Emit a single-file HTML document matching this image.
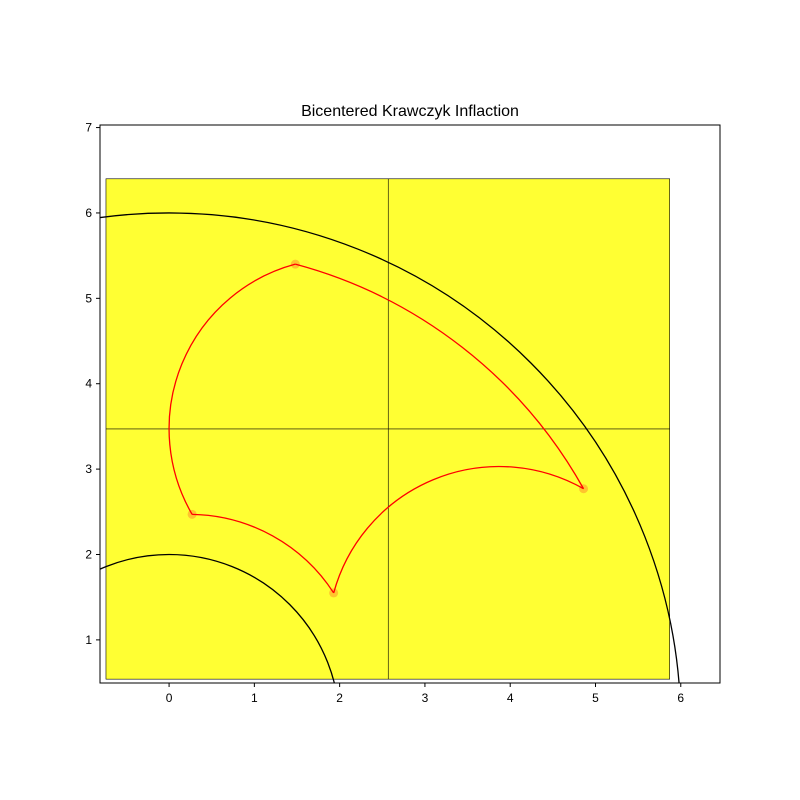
<!DOCTYPE html>
<html><head><meta charset="utf-8"><style>html,body{margin:0;background:#fff;width:800px;height:800px;overflow:hidden}svg{display:block;font-family:"Liberation Sans","DejaVu Sans",sans-serif}</style></head>
<body>
<svg id="c" width="800" height="800" xmlns="http://www.w3.org/2000/svg">
<rect width="800" height="800" fill="#fff"/>
<text x="410" y="116" font-size="16" text-anchor="middle">Bicentered Krawczyk Inflaction</text>
<defs><clipPath id="clip"><rect x="100" y="125" width="620" height="558"/></clipPath></defs>
<g id="plot" clip-path="url(#clip)"></g>
<g id="axes"></g>
</svg>
<script>
const xTicks=[0,1,2,3,4,5,6];
const yTicks=[1,2,3,4,5,6,7];
const boxX=[-0.74,5.87];
const boxY=[0.54,6.40];
const crossX=[2.57];
const crossY=[3.47];
const circleRadii=[6,2];
const pointsX=[0.27,1.93,4.86,1.48];
const pointsY=[2.47,1.55,2.77,5.40];
const arcStart=[0,3,0,1];
const arcEnd=[3,2,1,2];
const arcViaX=[0.0,2.57,1.0,3.85];
const arcViaY=[3.47,4.98,2.32,3.03];
const xMin=-0.81,xMax=6.46,yMin=0.495,yMax=7.03;
const L=100,R=720,T=125,B=683;
const sx=v=>L+(v-xMin)/(xMax-xMin)*(R-L);
const sy=v=>B-(v-yMin)/(yMax-yMin)*(B-T);
const NS="http://www.w3.org/2000/svg";
const plot=document.getElementById('plot'),axes=document.getElementById('axes');
function mk(tag,at,p){const e=document.createElementNS(NS,tag);for(const k in at)e.setAttribute(k,at[k]);p.appendChild(e);return e;}
let e=mk('rect',{x:sx(boxX[0]),y:sy(boxY[1]),width:sx(boxX[1])-sx(boxX[0]),height:sy(boxY[0])-sy(boxY[1]),fill:'#ffff33',stroke:'#000','stroke-width':0.6},plot);


crossX.forEach(v=>{const l=mk('line',{x1:sx(v),x2:sx(v),y1:sy(boxY[0]),y2:sy(boxY[1]),stroke:'#000','stroke-width':0.6},plot);

});
crossY.forEach(v=>{const l=mk('line',{x1:sx(boxX[0]),x2:sx(boxX[1]),y1:sy(v),y2:sy(v),stroke:'#000','stroke-width':0.6},plot);

});
circleRadii.forEach(r=>{const c=mk('ellipse',{cx:sx(0),cy:sy(0),rx:sx(r)-sx(0),ry:sy(0)-sy(r),fill:'none',stroke:'#000','stroke-width':1.3},plot);

});
pointsX.forEach((x,i)=>{const c=mk('circle',{cx:sx(x),cy:sy(pointsY[i]),r:4.5,fill:'#ffc42e'},plot);

});
function circ(a,b,c){const [x1,y1]=a,[x2,y2]=b,[x3,y3]=c;const d=2*(x1*(y2-y3)+x2*(y3-y1)+x3*(y1-y2));
const ux=((x1*x1+y1*y1)*(y2-y3)+(x2*x2+y2*y2)*(y3-y1)+(x3*x3+y3*y3)*(y1-y2))/d;
const uy=((x1*x1+y1*y1)*(x3-x2)+(x2*x2+y2*y2)*(x1-x3)+(x3*x3+y3*y3)*(x2-x1))/d;return [ux,uy,Math.hypot(x1-ux,y1-uy)];}
arcStart.forEach((s,i)=>{const a=[sx(pointsX[s]),sy(pointsY[s])],b=[sx(pointsX[arcEnd[i]]),sy(pointsY[arcEnd[i]])],m=[sx(arcViaX[i]),sy(arcViaY[i])];
const [cx,cy,r]=circ(a,b,m);
const cross=(m[0]-a[0])*(b[1]-a[1])-(m[1]-a[1])*(b[0]-a[0]);
const sweep=cross>0?1:0;
const p=mk('path',{d:`M${a[0]},${a[1]} A${r},${r} 0 0 ${sweep} ${b[0]},${b[1]}`,fill:'none',stroke:'red','stroke-width':1.3},plot);

});
const fr=mk('rect',{x:L,y:T,width:R-L,height:B-T,fill:'none',stroke:'#000','stroke-width':1},axes);


xTicks.forEach(v=>{mk('line',{x1:sx(v),x2:sx(v),y1:B,y2:B+4,stroke:'#000'},axes);
const t=mk('text',{x:sx(v),y:B+19,'font-size':12,'text-anchor':'middle'},axes);t.textContent=v;

});
yTicks.forEach(v=>{mk('line',{x1:L-4,x2:L,y1:sy(v),y2:sy(v),stroke:'#000'},axes);
const t=mk('text',{x:L-8,y:sy(v)+4,'font-size':12,'text-anchor':'end'},axes);t.textContent=v;

});
</script>
</body></html>
